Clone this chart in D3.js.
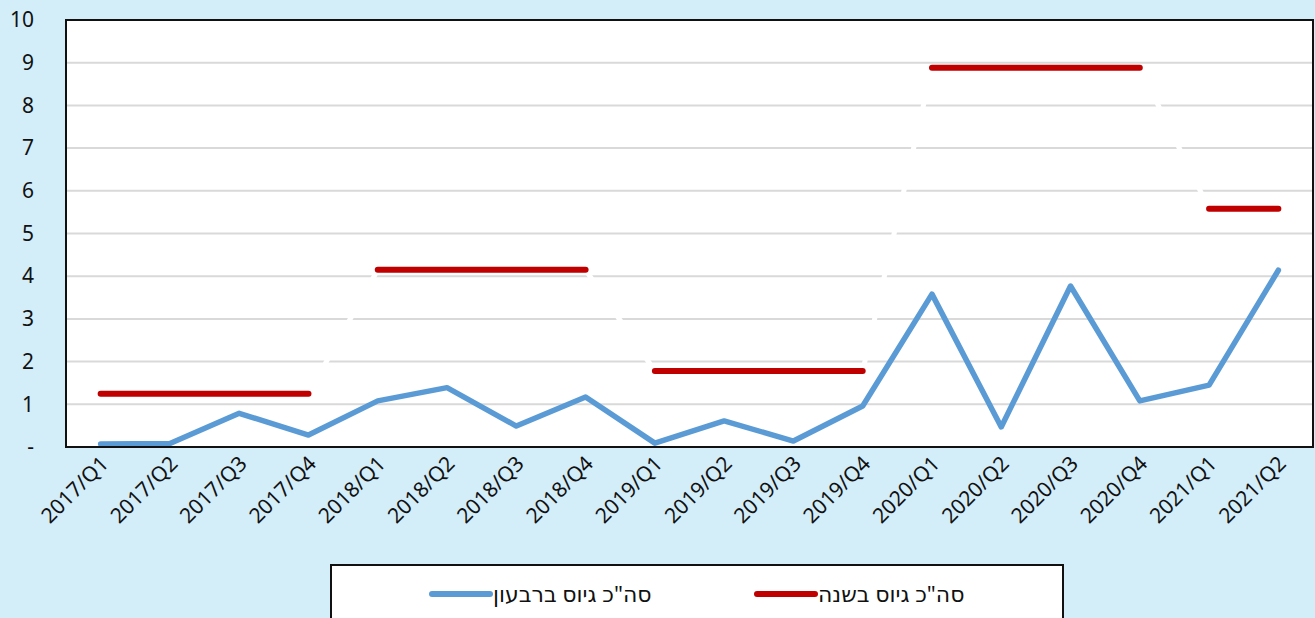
<!DOCTYPE html>
<html>
<head>
<meta charset="utf-8">
<script src="https://cdn.jsdelivr.net/npm/d3@7"></script>
<style>
body { margin: 0; background: #d3edf9; }
text { font-family: "Noto Sans", "DejaVu Sans", sans-serif; fill: #111; }
</style>
</head>
<body>
<script>
var quarters = ["2017/Q1","2017/Q2","2017/Q3","2017/Q4","2018/Q1","2018/Q2","2018/Q3","2018/Q4",
  "2019/Q1","2019/Q2","2019/Q3","2019/Q4","2020/Q1","2020/Q2","2020/Q3","2020/Q4","2021/Q1","2021/Q2"];
var quarterly = [0.07,0.08,0.79,0.28,1.08,1.39,0.49,1.17,0.09,0.61,0.14,0.96,3.58,0.47,3.77,1.08,1.45,4.14];
var yearly = [1.25,1.25,1.25,1.25,4.15,4.15,4.15,4.15,1.78,1.78,1.78,1.78,8.88,8.88,8.88,8.88,5.58,5.58];
var yTicks = [0,1,2,3,4,5,6,7,8,9,10];
var seriesNames = ["סה\"כ גיוס ברבעון", "סה\"כ גיוס בשנה"];

var W = 1315, H = 618;
var pLeft = 66, pRight = 1313, pTop = 20, pBottom = 447;

var svg = d3.select("body").append("svg")
	.attr("width", W)
	.attr("height", H);

svg.append("rect").attr("width", W).attr("height", H).attr("fill", "#d3edf9");

var x = d3.scaleBand().domain(quarters).range([pLeft, pRight]);
var y = d3.scaleLinear().domain([0, 10]).range([pBottom, pTop]);

svg.append("rect")
	.attr("x", pLeft).attr("y", pTop)
	.attr("width", pRight - pLeft).attr("height", pBottom - pTop)
	.attr("fill", "#fff");

// gridlines
svg.append("g").selectAll("line")
	.data(yTicks.filter(function (d) { return d > 0 && d < 10; }))
	.enter().append("line")
	.attr("x1", pLeft).attr("x2", pRight)
	.attr("y1", function (d) { return y(d); })
	.attr("y2", function (d) { return y(d); })
	.attr("stroke", "#d9d9d9")
	.attr("stroke-width", 2);

// y axis labels
var yAxis = d3.axisLeft(y).tickValues(yTicks)
	.tickFormat(function (d) { return d === 0 ? "-" : d; })
	.tickSize(0).tickPadding(32);
var ya = svg.append("g").attr("transform", "translate(" + pLeft + ",0)").call(yAxis);
ya.select(".domain").remove();
ya.selectAll("text").style("font-size", "21px").attr("fill", "#111");

// x axis labels
var xAxis = d3.axisBottom(x).tickSize(0);
var xa = svg.append("g").attr("transform", "translate(0," + pBottom + ")").call(xAxis);
xa.select(".domain").remove();
xa.selectAll("text")
	.style("font-size", "21px")
	.attr("fill", "#111")
	.attr("text-anchor", "end")
	.attr("dy", null)
	.attr("y", 0)
	.attr("transform", "translate(9,18) rotate(-45)");

// red yearly series: red within a year, white between years
var cx = function (d) { return x(d) + x.bandwidth() / 2; };
var connectors = [];
for (var i = 0; i < quarters.length - 1; i++) {
	if (i % 4 === 3) connectors.push([[cx(quarters[i]), y(yearly[i])], [cx(quarters[i + 1]), y(yearly[i + 1])]]);
}
svg.append("g").selectAll("path").data(connectors).enter().append("path")
	.attr("d", d3.line())
	.attr("fill", "none").attr("stroke", "#fff")
	.attr("stroke-width", 5).attr("stroke-linecap", "round");

var redLine = d3.line()
	.x(function (d) { return cx(d.q); })
	.y(function (d) { return y(d.v); });
var years = d3.groups(quarters.map(function (q, i) { return {q: q, v: yearly[i]}; }),
	function (d) { return d.q.slice(0, 4); });
svg.append("g").selectAll("path").data(years).enter().append("path")
	.attr("d", function (d) { return redLine(d[1]); })
	.attr("fill", "none").attr("stroke", "#c00000")
	.attr("stroke-width", 6).attr("stroke-linecap", "round");

// blue quarterly series
svg.append("path")
	.datum(quarterly)
	.attr("d", d3.line()
		.x(function (d, i) { return cx(quarters[i]); })
		.y(function (d) { return y(d); }))
	.attr("fill", "none").attr("stroke", "#5b9bd5")
	.attr("stroke-width", 5.5).attr("stroke-linejoin", "round").attr("stroke-linecap", "round");

// plot frame
svg.append("rect")
	.attr("x", pLeft).attr("y", pTop)
	.attr("width", pRight - pLeft).attr("height", pBottom - pTop)
	.attr("fill", "none").attr("stroke", "#111").attr("stroke-width", 2);

// legend
var lg = svg.append("g");
lg.append("rect")
	.attr("x", 331).attr("y", 565).attr("width", 732).attr("height", 70)
	.attr("fill", "#fff").attr("stroke", "#111").attr("stroke-width", 2);
var legendItems = [
	{name: seriesNames[0], color: "#5b9bd5", x: 432},
	{name: seriesNames[1], color: "#c00000", x: 757}
];
var li = lg.selectAll("g.item").data(legendItems).enter().append("g")
	.attr("transform", function (d) { return "translate(" + d.x + ",594)"; });
li.append("line")
	.attr("x1", 0).attr("x2", 58).attr("y1", 0).attr("y2", 0)
	.attr("stroke", function (d) { return d.color; })
	.attr("stroke-width", 6).attr("stroke-linecap", "round");
li.append("text")
	.attr("x", 61).attr("y", 0).attr("dy", "0.35em")
	.attr("direction", "rtl")
	.attr("text-anchor", "end")
	.style("font-size", "22px")
	.text(function (d) { return d.name; });
</script>
</body>
</html>
